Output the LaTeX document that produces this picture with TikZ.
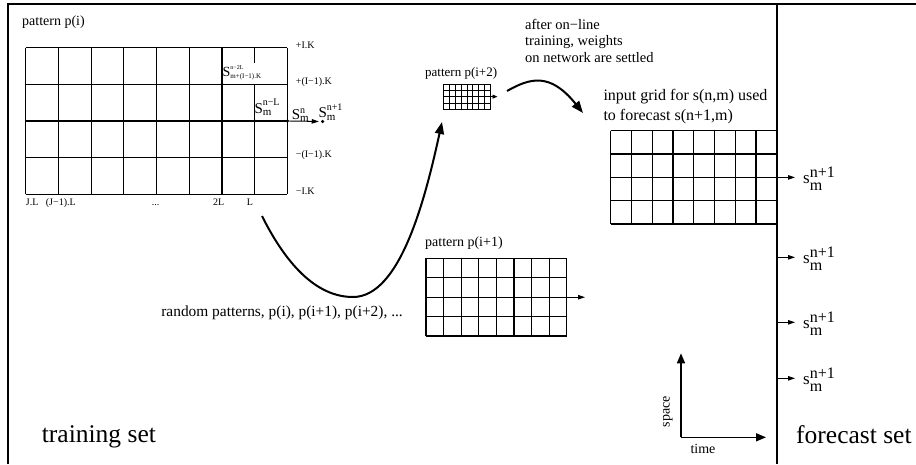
\documentclass[tikz,border=0pt]{standalone}
\usepackage{fontspec}
\setmainfont{Liberation Serif}
\usetikzlibrary{arrows.meta}
\newcommand\fs[1]{\fontsize{#1}{#1}\selectfont}
% base, sup, sub, basesize, supsize, subsize, raise, lower
\newcommand\supsub[8]{{\fs{#4}#1}{\fs{#5}\raisebox{#7}{\makebox[0pt][l]{#2}}}{\fs{#6}\raisebox{-#8}{#3}}}
\newcommand\pgrid[5]{%
  \foreach \k in {0,...,8}{\draw[#5] ({#1+(#3-#1)*\k/8},#2) -- ({#1+(#3-#1)*\k/8},#4);}
  \foreach \k in {0,...,4}{\draw[#5] (#1,{#2+(#4-#2)*\k/4}) -- (#3,{#2+(#4-#2)*\k/4});}}
\begin{document}
\begin{tikzpicture}[x=1pt,y=-1pt,
  frame/.style={line width=1.8pt},
  gline/.style={line width=1.2pt},
  tline/.style={line width=0.9pt},
  curvearrow/.style={line width=2pt,-{Triangle[length=12pt,width=9pt]}},
  smallarrow/.style={line width=0.9pt,-{Triangle[length=7pt,width=4.5pt]}},
  tinyarrow/.style={line width=0.9pt,-{Triangle[length=5pt,width=4pt]}},
  axisarrow/.style={line width=1.5pt,-{Triangle[length=10pt,width=8pt]}},
  lbl/.style={inner sep=0pt,anchor=base west},
  dot/.style={circle,fill=black,inner sep=0pt,minimum size=3.5pt}]
\useasboundingbox (0,0) rectangle (916,464);
% frame
\draw[frame] (8,464) -- (8,4) -- (916,4);
\draw[frame] (777,4) -- (777,464);
% big grid p(i)
\foreach \xx in {25.7,58.4,91.1,123.8,156.5,189.2,221.9,287.3}
  \draw[gline] (\xx,47.7) -- (\xx,194.3);
\draw[gline] (254.6,47.7) -- (254.6,63) (254.6,84.35) -- (254.6,194.3);
\foreach \yy in {47.7,84.35,157.65,194.3}
  \draw[gline] (25.7,\yy) -- (287.3,\yy);
\node[dot] (dA) at (221.9,84.35) {};
\node[dot] (dB) at (254.6,121) {};
\node[dot] (dC) at (287.3,121) {};
\node[dot] (dD) at (322.7,121.5) {};
\coordinate (gl) at (25.7,121);
\draw[gline] (gl) -- (dC.center);
\draw[smallarrow,shorten >=2pt] (dC.center) -- (dD.west);
% labels of big grid
\node[lbl] (lIK) at (295.7,48.3) {\fs{10}+I.K};
\node[lbl] (lI1K) at (295.7,84.3) {\fs{10}+(I−1).K};
\node[lbl] (lmI1K) at (295.7,157.7) {\fs{10}−(I−1).K};
\node[lbl] (lmIK) at (295.7,194.3) {\fs{10}−I.K};
\node[lbl] (bJL) at (25.7,205) {\fs{10}J.L};
\node[lbl] (bJ1L) at (45.7,205) {\fs{10}(J−1).L};
\node[lbl] (bdots) at (151.7,205) {\fs{10}...};
\node[lbl] (b2L) at (213,205) {\fs{10}2L};
\node[lbl] (bL) at (246.7,205) {\fs{10}L};
\node[lbl] (s2L) at (222.5,76.5) {\supsub{S}{n−2L}{m+(I−1).K}{14}{6}{7}{7.5pt}{1.5pt}};
\node[lbl] (sL) at (254.3,113.3) {\supsub{S}{n−L}{m}{15}{10}{11}{7.5pt}{2pt}};
\node[lbl] (sn) at (291.7,119) {\supsub{S}{n}{m}{15}{10}{11}{6pt}{2.5pt}};
\node[lbl] (sn1) at (318.3,117.5) {\supsub{S}{n+1}{m}{15}{10}{11}{7pt}{2.5pt}};
% titles
\node[lbl] (tpi) at (22,25) {\fs{14}pattern p(i)};
\node[lbl] (tpi2) at (425,76) {\fs{13}pattern p(i+2)};
\node[lbl] (tpi1) at (425,246) {\fs{14}pattern p(i+1)};
\node[inner sep=0pt,anchor=base east] (trand) at (403,316) {\fs{15.4}random patterns, p(i), p(i+1), p(i+2), ...};
\node[lbl] (ta1) at (525,29) {\fs{14.5}after on−line};
\node[lbl] (ta2) at (525,45.5) {\fs{14.5}training, weights};
\node[lbl] (ta3) at (525,62) {\fs{14.5}on network are settled};
\node[lbl] (tin1) at (603.3,100) {\fs{16}input grid for s(n,m) used};
\node[lbl] (tin2) at (603.3,120.5) {\fs{16}to forecast s(n+1,m)};
\node[lbl] (ttrain) at (41.7,442) {\fs{25.5}training set};
\node[lbl] (tfore) at (796,443) {\fs{25.5}forecast set};
% small grids
\pgrid{443.3}{84}{490.7}{109.3}{tline}
\coordinate (g2s) at (490.7,96.65);
\coordinate (g2e) at (497.5,96.65);
\draw[tinyarrow] (g2s) -- (g2e);
\pgrid{426}{258.3}{566.7}{336}{gline}
\coordinate (g1s) at (566.7,297.2);
\coordinate (g1e) at (585,297.2);
\draw[smallarrow] (g1s) -- (g1e);
\pgrid{610.7}{130.7}{776.7}{224}{gline}
% forecast arrows
\foreach \yy [count=\n] in {177.4,257.3,322.3,378.3}{
  \coordinate (fa\n) at (777,\yy);
  \coordinate (fb\n) at (795,\yy);
  \draw[smallarrow] (fa\n) -- (fb\n);
  \node[lbl] (fs\n) at (803,\yy+6.3) {\supsub{s}{n+1}{m}{17}{16}{16}{6pt}{7pt}};
}
% curves
\coordinate (c1s) at (262,216);
\coordinate (c1m) at (353,297);
\coordinate (c1e) at (442,122);
\draw[curvearrow] (c1s) .. controls (285,262) and (315,297) .. (c1m) .. controls (400,297) and (425,200) .. (c1e);
\coordinate (c2s) at (507,91);
\coordinate (c2e) at (583,113);
\draw[curvearrow] (c2s) .. controls (530,78) and (550,72) .. (c2e);
% axes
\coordinate (ax0) at (681,437.3);
\coordinate (axY) at (681,353.3);
\coordinate (axX) at (766,437.3);
\draw[axisarrow] (ax0) -- (axY);
\draw[axisarrow] (ax0) -- (axX);
\node[inner sep=0pt,anchor=base,rotate=90] (tspace) at (669.5,411.5) {\fs{14}space};
\node[inner sep=0pt,anchor=base] (ttime) at (703,453) {\fs{14}time};
\end{tikzpicture}
\end{document}
